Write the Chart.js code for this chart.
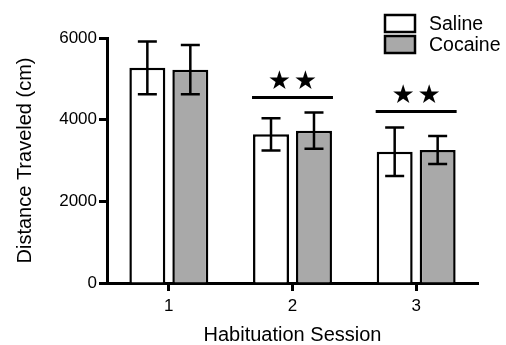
<!DOCTYPE html>
<html>
<head>
<meta charset="utf-8">
<script src="https://cdn.jsdelivr.net/npm/chart.js@4/dist/chart.umd.min.js"></script>
<style>
html,body{margin:0;padding:0;background:#fff;}
canvas{display:block;}
</style>
</head>
<body>
<canvas id="c" width="506" height="345"></canvas>
<script>
const sessions = ['1', '2', '3'];
const salineMean = [5270, 3640, 3215];
const salineSem = [645, 397, 595];
const cocaineMean = [5225, 3730, 3257];
const cocaineSem = [605, 445, 343];
const sigLevel = [null, 4540, 4200];
const sigLabel = ['', '★★', '★★'];
const yTicks = [0, 2000, 4000, 6000];

const FONT = '"Liberation Sans", Arial, Helvetica, sans-serif';
const errors = [salineSem, cocaineSem];

const errorBars = {
  id: 'errorBars',
  afterDatasetsDraw(chart) {
    const ctx = chart.ctx;
    const y = chart.scales.y;
    ctx.save();
    ctx.strokeStyle = '#000';
    ctx.lineWidth = 2.5;
    chart.data.datasets.forEach((ds, di) => {
      const meta = chart.getDatasetMeta(di);
      meta.data.forEach((el, i) => {
        const m = ds.data[i], e = errors[di][i];
        const yt = y.getPixelForValue(m + e), yb = y.getPixelForValue(m - e);
        const cx = el.x, hw = 9.5;
        ctx.beginPath();
        ctx.moveTo(cx, yt); ctx.lineTo(cx, yb);
        ctx.moveTo(cx - hw, yt); ctx.lineTo(cx + hw, yt);
        ctx.moveTo(cx - hw, yb); ctx.lineTo(cx + hw, yb);
        ctx.stroke();
      });
    });
    ctx.restore();
  }
};

const sigMarks = {
  id: 'sigMarks',
  afterDraw(chart) {
    const ctx = chart.ctx;
    const y = chart.scales.y;
    const m0 = chart.getDatasetMeta(0), m1 = chart.getDatasetMeta(1);
    ctx.save();
    ctx.strokeStyle = '#000';
    ctx.fillStyle = '#000';
    ctx.lineWidth = 3;
    sigLevel.forEach((lv, i) => {
      if (lv == null) return;
      const a = m0.data[i], b = m1.data[i];
      const x1 = a.x - a.width / 2 - 1, x2 = b.x + b.width / 2 + 1;
      const py = y.getPixelForValue(lv);
      ctx.beginPath();
      ctx.moveTo(x1, py); ctx.lineTo(x2, py);
      ctx.stroke();
      ctx.font = '26px "DejaVu Sans", sans-serif';
      ctx.textAlign = 'center';
      ctx.textBaseline = 'middle';
      const chars = Array.from(sigLabel[i]);
      const mid = (x1 + x2) / 2, gap = 26;
      chars.forEach((ch, k) => {
        ctx.fillText(ch, mid + (k - (chars.length - 1) / 2) * gap, py - 15);
      });
    });
    ctx.restore();
  }
};

const customLegend = {
  id: 'customLegend',
  afterDraw(chart) {
    const ctx = chart.ctx;
    ctx.save();
    chart.data.datasets.forEach((ds, i) => {
      const bx = 385, by = 15 + i * 21, bw = 30, bh = 17;
      ctx.fillStyle = ds.backgroundColor;
      ctx.fillRect(bx, by, bw, bh);
      ctx.strokeStyle = '#000';
      ctx.lineWidth = 2.5;
      ctx.strokeRect(bx, by, bw, bh);
      ctx.fillStyle = '#000';
      ctx.font = '19.5px ' + FONT;
      ctx.textAlign = 'left';
      ctx.textBaseline = 'middle';
      ctx.fillText(ds.label, 429, by + bh / 2 + 1);
    });
    ctx.restore();
  }
};

new Chart(document.getElementById('c'), {
  type: 'bar',
  data: {
    labels: sessions,
    datasets: [
      { label: 'Saline', data: salineMean, backgroundColor: '#ffffff', borderColor: '#000', borderWidth: 2.5,
        categoryPercentage: 0.695, barPercentage: 0.837 },
      { label: 'Cocaine', data: cocaineMean, backgroundColor: '#a9a9a9', borderColor: '#000', borderWidth: 2.5,
        categoryPercentage: 0.695, barPercentage: 0.837 }
    ]
  },
  options: {
    responsive: false,
    animation: false,
    devicePixelRatio: 1,
    layout: { padding: { left: 0, right: 28, top: 38, bottom: 0 } },
    plugins: { legend: { display: false }, tooltip: { enabled: false } },
    scales: {
      x: {
        grid: { display: true, drawOnChartArea: false, offset: false, tickLength: 8, tickWidth: 3, tickColor: '#000' },
        border: { display: true, width: 3, color: '#000' },
        ticks: { color: '#000', font: { size: 17, family: FONT }, padding: 5 },
        title: { display: true, text: 'Habituation Session', color: '#000', font: { size: 20, family: FONT, lineHeight: 1.0 }, padding: { top: 0, bottom: 0 } },
        afterFit: s => { s.height = 62; }
      },
      y: {
        min: 0, max: 6000,
        afterBuildTicks: s => { s.ticks = yTicks.map(v => ({ value: v })); },
        grid: { display: true, drawOnChartArea: false, tickLength: 8, tickWidth: 3, tickColor: '#000' },
        border: { display: true, width: 3, color: '#000' },
        ticks: { color: '#000', font: { size: 17, family: FONT }, padding: 2, callback: v => String(v) },
        title: { display: true, text: 'Distance Traveled (cm)', color: '#000', font: { size: 20, family: FONT }, padding: { top: 13, bottom: 0 } },
        afterFit: s => { s.width = 107; }
      }
    }
  },
  plugins: [errorBars, sigMarks, customLegend]
});
</script>
</body>
</html>
